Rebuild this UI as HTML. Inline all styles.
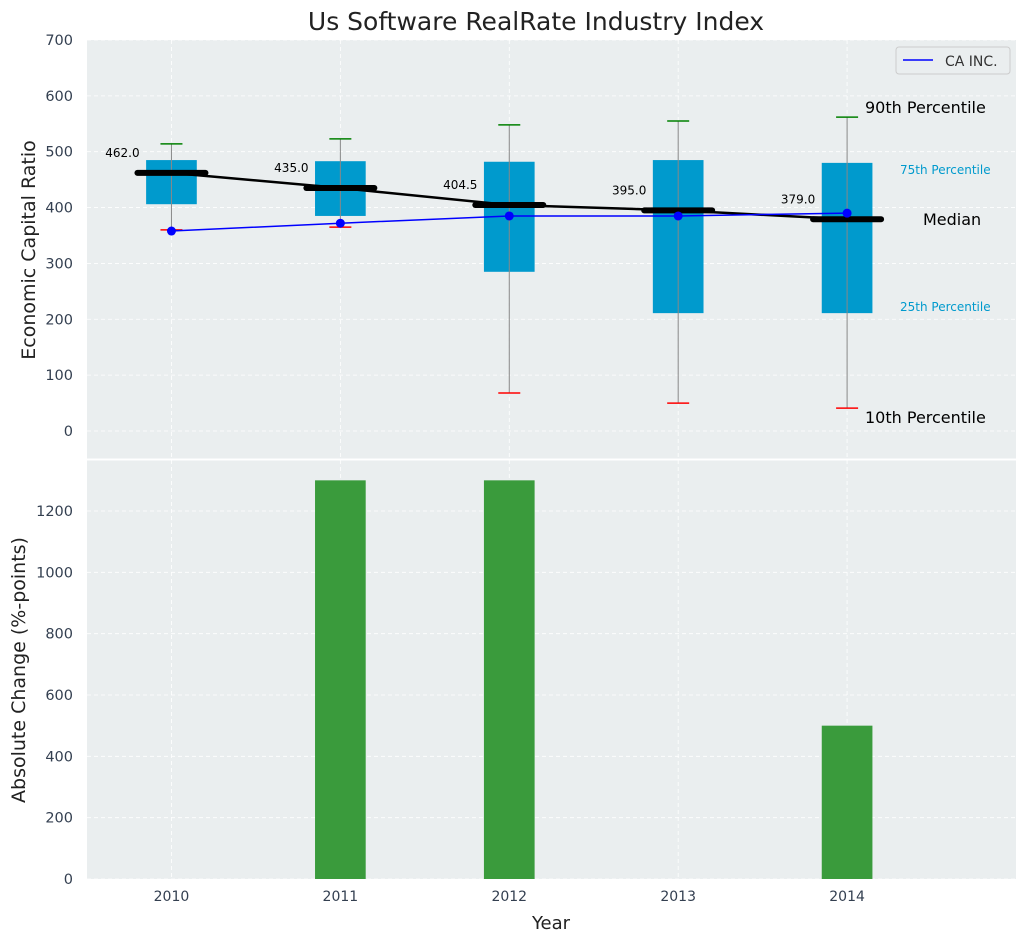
<!DOCTYPE html>
<html><head><meta charset="utf-8"><style>
body{margin:0;background:#fff;font-family:"Liberation Sans","DejaVu Sans",sans-serif;}
svg text{font-family:"DejaVu Sans","Liberation Sans",sans-serif;}
</style></head><body>
<svg id="chart" width="1026" height="942" xmlns="http://www.w3.org/2000/svg"></svg>
<script>
const years=[2010,2011,2012,2013,2014];
const p10=[360,365,68,50,41];
const q1=[406,385,285,211,211];
const medians=[462.0,435.0,404.5,395.0,379.0];
const q3=[485,483,482,485,480];
const p90=[514,523,548,555,562];
const caInc=[358,372,385,385,390];
const changes=[0,1300,1300,0,500];
const topTicks=[0,100,200,300,400,500,600,700];
const botTicks=[0,200,400,600,800,1000,1200];

const NS="http://www.w3.org/2000/svg";
const svg=document.getElementById('chart');
function el(t,a,txt){const e=document.createElementNS(NS,t);for(const k in a)e.setAttribute(k,a[k]);if(txt!==undefined)e.textContent=txt;svg.appendChild(e);return e;}
const L=87,R=1016;
const x=v=>L+(v-2009.5)/(5.5)*(R-L);
const yT=v=>431-v*0.5586;
const yB=v=>879-v*(368/1200);

let e=el('rect',{x:L,y:40,width:R-L,height:419,fill:'#eaeeef'});

e=el('rect',{x:L,y:460,width:R-L,height:419,fill:'#eaeeef'});

years.forEach(yv=>{
  el('line',{x1:x(yv),x2:x(yv),y1:40,y2:459,stroke:'#fff','stroke-dasharray':'4,3','stroke-width':0.8});
  el('line',{x1:x(yv),x2:x(yv),y1:460,y2:879,stroke:'#fff','stroke-dasharray':'4,3','stroke-width':0.8});
  e=el('text',{x:x(yv),y:901,'text-anchor':'middle','font-size':14,fill:'#333f50'},yv);
  
});
topTicks.forEach(t=>{
  el('line',{x1:L,x2:R,y1:yT(t),y2:yT(t),stroke:'#fff','stroke-dasharray':'4,3','stroke-width':0.8});
  e=el('text',{x:73,y:yT(t)+5,'text-anchor':'end','font-size':14.5,fill:'#333f50'},t);
  
});
botTicks.forEach(t=>{
  el('line',{x1:L,x2:R,y1:yB(t),y2:yB(t),stroke:'#fff','stroke-dasharray':'4,3','stroke-width':0.8});
  e=el('text',{x:73,y:yB(t)+5,'text-anchor':'end','font-size':14.5,fill:'#333f50'},t);
  
});
const bw=(R-L)/5.5*0.3;
years.forEach((yv,i)=>{
  const cx=x(yv);
  e=el('rect',{x:cx-bw/2,y:yT(q3[i]),width:bw,height:yT(q1[i])-yT(q3[i]),fill:'#009acd'});
  
  e=el('line',{x1:cx,x2:cx,y1:yT(p10[i]),y2:yT(p90[i]),stroke:'#888','stroke-width':1});
  
  e=el('line',{x1:cx-11,x2:cx+11,y1:yT(p90[i]),y2:yT(p90[i]),stroke:'green','stroke-width':1.5});
  
  e=el('line',{x1:cx-11,x2:cx+11,y1:yT(p10[i]),y2:yT(p10[i]),stroke:'red','stroke-width':1.5});
  
});
e=el('polyline',{points:years.map((yv,i)=>x(yv)+','+yT(medians[i])).join(' '),fill:'none',stroke:'#000','stroke-width':2.5});

years.forEach((yv,i)=>{
  const cx=x(yv);
  e=el('line',{x1:cx-34,x2:cx+34,y1:yT(medians[i]),y2:yT(medians[i]),stroke:'#000','stroke-width':6,'stroke-linecap':'round'});
  
  e=el('text',{x:cx-49,y:yT(medians[i])-16,'text-anchor':'middle','font-size':12,fill:'#000'},medians[i].toFixed(1));
  
});
e=el('polyline',{points:years.map((yv,i)=>x(yv)+','+yT(caInc[i])).join(' '),fill:'none',stroke:'blue','stroke-width':1.5});

years.forEach((yv,i)=>{
  e=el('circle',{cx:x(yv),cy:yT(caInc[i]),r:4.5,fill:'blue'});
  
});
[['90th Percentile',865,113,16,'#000'],['75th Percentile',900,174,12,'#009acd'],['Median',923,225,16,'#000'],['25th Percentile',900,311,12,'#009acd'],['10th Percentile',865,423,16,'#000']].forEach(a=>{
  e=el('text',{x:a[1],y:a[2],'font-size':a[3],fill:a[4]},a[0]);
  
});
e=el('rect',{x:896,y:47,width:114,height:27,rx:3,fill:'#eaeeef',stroke:'#ccc'});

el('line',{x1:903,x2:933,y1:60,y2:60,stroke:'blue','stroke-width':1.5});
e=el('text',{x:945,y:66,'font-size':14,fill:'#333'},'CA INC.');

years.forEach((yv,i)=>{
  if(changes[i]<=0)return;
  e=el('rect',{x:x(yv)-bw/2,y:yB(changes[i]),width:bw,height:yB(0)-yB(changes[i]),fill:'#3a9b3c'});
  
});
el('line',{x1:L,x2:R,y1:459.5,y2:459.5,stroke:'#fff','stroke-width':2});
e=el('text',{x:536,y:30,'text-anchor':'middle','font-size':25,fill:'#222'},'Us Software RealRate Industry Index');

e=el('text',{x:551,y:929,'text-anchor':'middle','font-size':18,fill:'#222'},'Year');

e=el('text',{x:35,y:250,'text-anchor':'middle','font-size':19,fill:'#222',transform:'rotate(-90 35 250)'},'Economic Capital Ratio');

e=el('text',{x:25,y:670,'text-anchor':'middle','font-size':19,fill:'#222',transform:'rotate(-90 25 670)'},'Absolute Change (%-points)');

</script>
</body></html>
